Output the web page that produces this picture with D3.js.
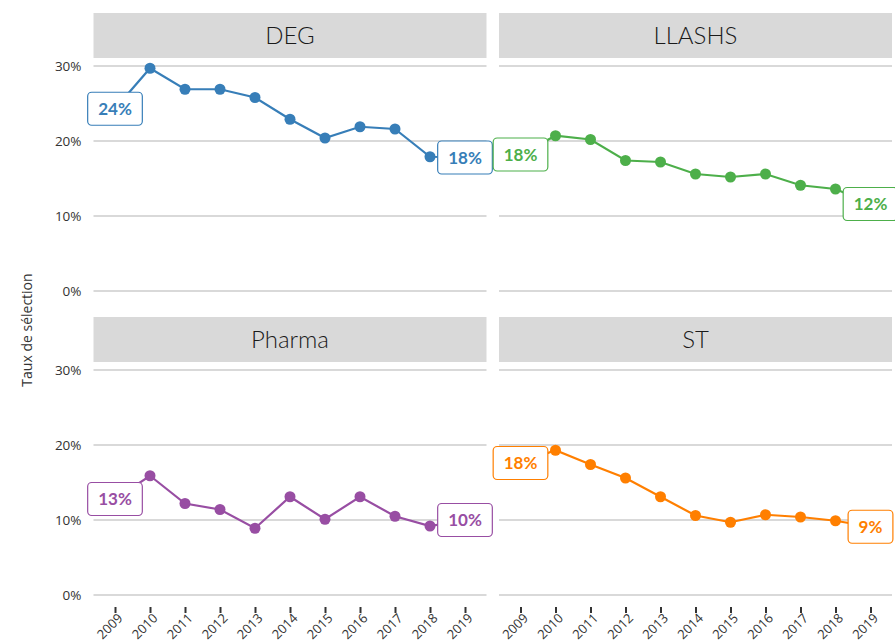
<!DOCTYPE html>
<html>
<head>
<meta charset="utf-8">
<script src="https://cdn.jsdelivr.net/npm/d3@7"></script>
<style>
  body { margin: 0; background: #ffffff; }
  svg { display: block; font-family: Lato, "Open Sans", sans-serif; }
</style>
</head>
<body>
<div id="chart"></div>
<script>
////////////////////////////////////////////////////////////////////////
//
// Taux de sélection by faculty, small multiples 2009 - 2019
//
////////////////////////////////////////////////////////////////////////

var years = [2009, 2010, 2011, 2012, 2013, 2014, 2015, 2016, 2017, 2018, 2019];
var panelNames = ["DEG", "LLASHS", "Pharma", "ST"];
var yTicks = [0, 0.1, 0.2, 0.3];

//values in percent
var degValues    = [24.3, 29.7, 26.9, 26.9, 25.8, 22.9, 20.4, 21.9, 21.6, 17.9, 17.8];
var llashsValues = [18.2, 20.7, 20.2, 17.4, 17.2, 15.6, 15.2, 15.6, 14.1, 13.6, 11.6];
var pharmaValues = [12.8, 15.9, 12.2, 11.4,  8.9, 13.1, 10.1, 13.1, 10.5,  9.2, 10.0];
var stValues     = [17.6, 19.3, 17.4, 15.6, 13.1, 10.6,  9.7, 10.7, 10.4,  9.9,  9.1];

var panelValues = [degValues, llashsValues, pharmaValues, stValues];
var panelColors = ["#377eb8", "#4daf4a", "#984ea3", "#ff7f00"];

var axisFont = "'Open Sans', Lato, sans-serif";


////////////////////////////////////////////////////////////////////////
//
// Will initialize
//
////////////////////////////////////////////////////////////////////////
function init()
  {
  var width = 895;
  var height = 640;

  var svg = d3.select("#chart")
    .append("svg")
    .attr("width", width)
    .attr("height", height);

  //y axis title
  svg.append("text")
    .attr("transform", "translate(32,330) rotate(-90)")
    .attr("text-anchor", "middle")
    .style("font-size", "14px")
    .style("font-family", axisFont)
    .style("fill", "#333333")
    .text("Taux de sélection");

  for(var i = 0; i < panelNames.length; i++)
    {
    drawPanel(svg, i);
    }

  return;
  }


////////////////////////////////////////////////////////////////////////
//
// Draw a single facet: strip, grid, line, points and end labels
//
////////////////////////////////////////////////////////////////////////
function drawPanel(svg, index)
  {
  var col = index % 2;
  var row = Math.floor(index / 2);

  //panel geometry
  var panelLeft = 93.5 + col * 405.5;
  var panelWidth = 393;
  var stripTop = 13 + row * 304;
  var stripHeight = 45;
  var rowOffset = row * 304;
  var color = panelColors[index];

  var x = d3.scaleLinear()
    .domain([2009, 2019])
    .range([panelLeft + 21.5, panelLeft + panelWidth - 21.5]);

  var y = d3.scaleLinear()
    .domain([0, 0.3])
    .range([291 + rowOffset, 66 + rowOffset]);

  var data = years.map(function(yr, k) { return {year: yr, value: panelValues[index][k] / 100}; });

  //strip
  svg.append("rect")
    .attr("x", panelLeft)
    .attr("y", stripTop)
    .attr("width", panelWidth)
    .attr("height", stripHeight)
    .attr("fill", "#d9d9d9");

  svg.append("text")
    .attr("x", panelLeft + panelWidth / 2)
    .attr("y", stripTop + stripHeight / 2)
    .attr("dy", "0.36em")
    .attr("text-anchor", "middle")
    .style("font-size", "24px")
    .style("font-weight", 300)
    .style("fill", "#1a1a1a")
    .text(panelNames[index]);

  //horizontal grid
  svg.append("g")
    .selectAll("line")
    .data(yTicks)
    .enter()
    .append("line")
    .attr("x1", panelLeft)
    .attr("x2", panelLeft + panelWidth)
    .attr("y1", function(d) { return y(d); })
    .attr("y2", function(d) { return y(d); })
    .attr("stroke", "#d9d9d9")
    .attr("stroke-width", 2);

  //y axis labels only on the left column
  if(col === 0)
    {
    var yAxis = d3.axisLeft(y)
      .tickValues(yTicks)
      .tickFormat(d3.format(".0%"))
      .tickSize(0)
      .tickPadding(12);

    var yg = svg.append("g")
      .attr("transform", "translate(" + panelLeft + ",0)")
      .call(yAxis);

    yg.select(".domain").remove();
    yg.selectAll("text")
      .style("font-size", "13.5px")
      .style("font-family", axisFont)
      .style("fill", "#333333");
    }

  //x axis on the bottom row
  if(row === 1)
    {
    var xAxis = d3.axisBottom(x)
      .tickValues(years)
      .tickFormat(d3.format("d"))
      .tickSize(6)
      .tickSizeOuter(0);

    var xg = svg.append("g")
      .attr("transform", "translate(0," + (y(0) + 12) + ")")
      .call(xAxis);

    xg.select(".domain").remove();
    xg.selectAll(".tick line")
      .attr("stroke", "#333333")
      .attr("stroke-width", 2);
    xg.selectAll("text")
      .attr("y", 0)
      .attr("dy", 0)
      .attr("text-anchor", "end")
      .attr("transform", "translate(8,12) rotate(-45)")
      .style("font-size", "13px")
      .style("font-family", axisFont)
      .style("fill", "#333333");
    }

  //line
  var line = d3.line()
    .x(function(d) { return x(d.year); })
    .y(function(d) { return y(d.value); });

  svg.append("path")
    .datum(data)
    .attr("d", line)
    .attr("fill", "none")
    .attr("stroke", color)
    .attr("stroke-width", 2.2);

  //points
  svg.append("g")
    .selectAll("circle")
    .data(data)
    .enter()
    .append("circle")
    .attr("cx", function(d) { return x(d.year); })
    .attr("cy", function(d) { return y(d.value); })
    .attr("r", 5.5)
    .attr("fill", color);

  //first and last labels
  var ends = [data[0], data[data.length - 1]];

  ends.forEach(function(d)
    {
    var g = svg.append("g")
      .attr("transform", "translate(" + x(d.year) + "," + y(d.value) + ")");

    var rect = g.append("rect")
      .attr("fill", "#ffffff")
      .attr("stroke", color)
      .attr("stroke-width", 1.2)
      .attr("rx", 4);

    var txt = g.append("text")
      .attr("text-anchor", "middle")
      .attr("dy", "0.36em")
      .style("font-size", "17px")
      .style("font-weight", "bold")
      .style("fill", color)
      .text(Math.round(d.value * 100) + "%");

    var w = txt.node().getComputedTextLength() + 21;
    var h = 33;

    rect.attr("x", -w / 2)
      .attr("y", -h / 2)
      .attr("width", w)
      .attr("height", h);
    });

  return;
  }

init();
</script>
</body>
</html>
